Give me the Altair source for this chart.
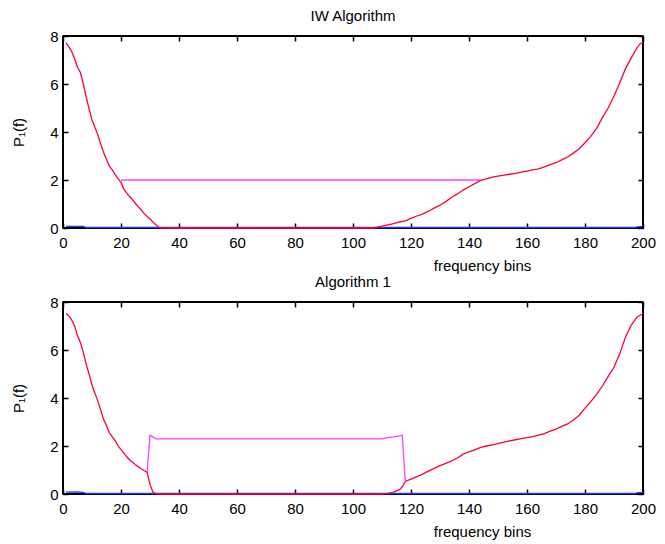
import altair as alt
import pandas as pd

# ---------------- data ----------------
X_TICKS = [0, 20, 40, 60, 80, 100, 120, 140, 160, 180, 200]
Y_TICKS = [0, 2, 4, 6, 8]

# IW Algorithm panel
iw_red_x = [1, 2, 3, 4, 5, 6, 7, 8, 9, 10, 11, 12, 13, 14, 15, 16, 17, 18, 19, 20,
            21, 22, 23, 24, 25, 26, 27, 28, 29, 30, 31, 32, 33, 34, 107, 108, 110,
            112, 114, 116, 118, 120, 122, 124, 126, 128, 130, 132, 134, 136, 138,
            140, 142, 144, 146, 148, 150, 152, 154, 156, 158, 160, 162, 164, 166,
            168, 170, 172, 174, 176, 178, 180, 182, 184, 186, 188, 190, 192, 194,
            196, 198, 199, 200]
iw_red_y = [7.72, 7.55, 7.35, 7.05, 6.7, 6.48, 6.0, 5.45, 4.95, 4.5, 4.2, 3.88, 3.5,
            3.15, 2.85, 2.58, 2.42, 2.22, 2.05, 1.9, 1.62, 1.45, 1.3, 1.17, 1.02, 0.88,
            0.75, 0.6, 0.48, 0.38, 0.25, 0.14, 0.04, 0.0, 0.0, 0.03, 0.08, 0.13, 0.18,
            0.25, 0.3, 0.4, 0.5, 0.58, 0.7, 0.83, 0.95, 1.1, 1.28, 1.42, 1.58, 1.72,
            1.85, 1.98, 2.05, 2.12, 2.16, 2.2, 2.24, 2.28, 2.33, 2.37, 2.42, 2.46, 2.55,
            2.64, 2.72, 2.84, 2.96, 3.12, 3.3, 3.55, 3.82, 4.15, 4.6, 5.0, 5.5, 6.05,
            6.65, 7.1, 7.52, 7.68, 7.72]
iw_mag_x = [20, 144]
iw_mag_y = [2.0, 2.0]
iw_blue_x = [1, 7, 8, 197, 198, 200]
iw_blue_y = [0.07, 0.07, 0.02, 0.02, 0.05, 0.07]

# Algorithm 1 panel
a1_red_x = [1, 2, 3, 4, 5, 6, 7, 8, 9, 10, 11, 12, 13, 14, 15, 16, 17, 18, 19, 20,
            21, 22, 23, 24, 25, 26, 27, 28, 29, 30, 31, 32, 33, 110, 112, 114, 116,
            117, 118, 120, 122, 124, 126, 128, 130, 132, 134, 136, 138, 140, 142, 144,
            146, 148, 150, 152, 154, 156, 158, 160, 162, 164, 166, 168, 170, 172, 174,
            176, 178, 180, 182, 184, 186, 188, 190, 192, 194, 196, 198, 200]
a1_red_y = [7.52, 7.42, 7.25, 7.0, 6.6, 6.3, 5.9, 5.4, 5.0, 4.55, 4.2, 3.88, 3.5, 3.1,
            2.85, 2.55, 2.38, 2.22, 2.0, 1.85, 1.7, 1.55, 1.42, 1.32, 1.22, 1.13, 1.05,
            0.98, 0.9, 0.4, 0.08, 0.02, 0.0, 0.0, 0.03, 0.08, 0.18, 0.3, 0.52, 0.62,
            0.72, 0.83, 0.95, 1.07, 1.18, 1.28, 1.38, 1.5, 1.66, 1.76, 1.84, 1.94, 2.0,
            2.05, 2.1, 2.16, 2.21, 2.26, 2.31, 2.35, 2.39, 2.45, 2.52, 2.62, 2.7, 2.82,
            2.92, 3.08, 3.28, 3.58, 3.85, 4.15, 4.5, 4.9, 5.28, 5.85, 6.55, 7.05, 7.38,
            7.52]
a1_mag_x = [29, 30, 31, 32, 110, 112, 114, 116, 117, 118]
a1_mag_y = [0.92, 2.45, 2.38, 2.3, 2.3, 2.35, 2.38, 2.42, 2.45, 0.55]
a1_blue_x = [1, 5, 7, 8, 197, 198, 200]
a1_blue_y = [0.08, 0.09, 0.07, 0.02, 0.02, 0.05, 0.07]

# box edges of each panel (axis limits)
X_EDGES = [0, 200]
Y_EDGES = [0, 8]

RED = "#ff0030"
MAGENTA = "#ff40ff"
BLUE = "#2038ff"
FONT = "Liberation Sans"
FS = 15
PW, PH = 580, 192


def df(xs, ys):
    return pd.DataFrame({"bin": xs, "p": ys})


def tick_axis(orient, **kw):
    return alt.Axis(values=X_TICKS if orient in ("top", "bottom") else Y_TICKS,
                    orient=orient, offset=-5, tickSize=5, domain=False,
                    tickColor="#000000", tickWidth=1.5, **kw)


def panel(title, red, mag, blue):
    xs = alt.Scale(domain=[0, 200], nice=False, zero=False)
    ys = alt.Scale(domain=[0, 8], nice=False)
    x_main = alt.X("bin:Q", scale=xs, axis=tick_axis(
        "bottom", labelPadding=7, labelFlush=False, title="frequency bins",
        titleX=419, titleY=35, titleBaseline="top", titleAlign="center"))
    y_main = alt.Y("p:Q", scale=ys, axis=tick_axis(
        "left", labelPadding=5, labelFlush=False, title="P\u2081(f)", titlePadding=23))
    x_top = alt.X("bin:Q", scale=xs, axis=tick_axis("top", labels=False, title=None))
    y_right = alt.Y("p:Q", scale=ys, axis=tick_axis("right", labels=False, title=None))

    # box: horizontal rules at the y limits, vertical rules at the x limits
    hbox = alt.Chart(pd.DataFrame({"p": Y_EDGES})).mark_rule(
        color="#000000", strokeWidth=2).encode(
        y=alt.Y("p:Q", scale=ys, axis=None), x=alt.value(0), x2=alt.value(PW))
    vbox = alt.Chart(pd.DataFrame({"bin": X_EDGES})).mark_rule(
        color="#000000", strokeWidth=2).encode(
        x=alt.X("bin:Q", scale=xs, axis=None), y=alt.value(0), y2=alt.value(PH))

    b = alt.Chart(df(*blue)).mark_line(color=BLUE, strokeWidth=1.3).encode(x=x_main, y=y_main)
    m = alt.Chart(df(*mag)).mark_line(color=MAGENTA, strokeWidth=1.3).encode(x=x_top, y=y_right)
    r = alt.Chart(df(*red)).mark_line(color=RED, strokeWidth=1.3).encode(
        x=alt.X("bin:Q", scale=xs, axis=None), y=alt.Y("p:Q", scale=ys, axis=None))
    return alt.layer(hbox, vbox, b, m, r).resolve_axis(
        x="independent", y="independent").properties(
        width=PW, height=PH,
        title=alt.TitleParams(title, fontSize=FS, font=FONT, fontWeight="normal",
                              color="black", offset=5, frame="group", anchor="middle"))


top = panel("IW Algorithm", (iw_red_x, iw_red_y), (iw_mag_x, iw_mag_y), (iw_blue_x, iw_blue_y))
bottom = panel("Algorithm 1", (a1_red_x, a1_red_y), (a1_mag_x, a1_mag_y), (a1_blue_x, a1_blue_y))

chart = alt.vconcat(top, bottom, spacing=0).properties(
    padding={"left": 2, "top": 0, "right": 0, "bottom": 2}
).configure_view(stroke="#000000", strokeWidth=1.5).configure_axis(
    labelFont=FONT, labelFontSize=FS, labelColor="black", titleFont=FONT,
    titleFontSize=FS, titleFontWeight="normal", titleColor="black", grid=False)

chart.save("out.html", embed_options={"renderer": "svg", "actions": False})
